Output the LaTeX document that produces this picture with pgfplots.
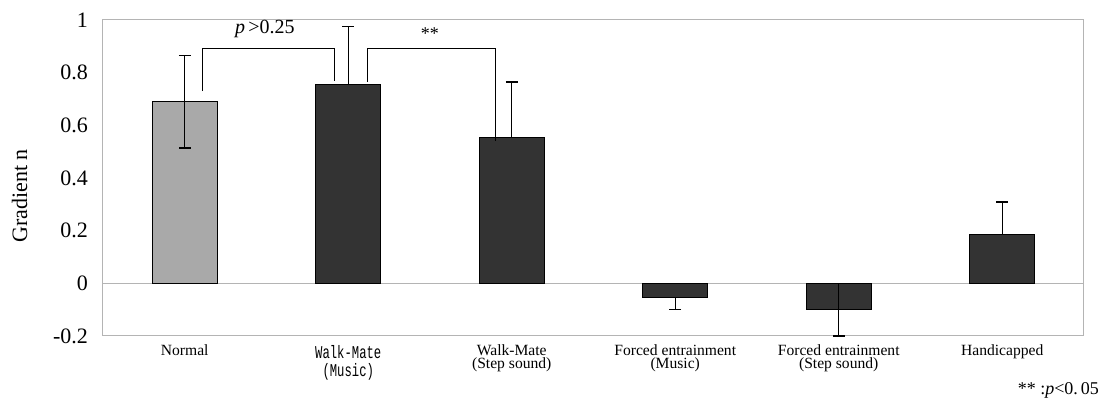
\documentclass[border=0pt]{standalone}
\usepackage{fontspec}
\setmainfont{Liberation Serif}
\setmonofont{Liberation Mono}
\usepackage{pgfplots}
\pgfplotsset{compat=1.18}
\definecolor{lightbar}{HTML}{A9A9A9}
\definecolor{darkbar}{HTML}{333333}
\definecolor{frame}{HTML}{B4B4B4}
\begin{document}
\begin{tikzpicture}
\useasboundingbox (0,0) rectangle (554pt,205.5pt);
\begin{axis}[
  at={(51.5pt,37.5pt)}, anchor=south west,
  scale only axis, width=490.5pt, height=158pt,
  xmin=-0.5, xmax=5.5, ymin=-0.2, ymax=1,
  axis line style={frame, line width=0.5pt},
  major tick length=0pt,
  xtick={0,1,2,3,4,5},
  xticklabels={Normal,
    {\scalebox{0.68}[1]{\fontsize{9}{9}\selectfont\ttfamily Walk-Mate}\\[0.5pt]\scalebox{0.68}[1]{\fontsize{9}{9}\selectfont\ttfamily (Music)}},
    {Walk-Mate\\[-2pt](Step sound)},
    {Forced entrainment\\[-2pt](Music)},
    {Forced entrainment\\[-2pt](Step sound)},
    Handicapped},
  xticklabel style={font=\fontsize{7.8}{8.5}\selectfont, align=center, anchor=north, yshift=-1pt},
  ytick={-0.2,0,0.2,0.4,0.6,0.8,1},
  yticklabels={-0.2,0,0.2,0.4,0.6,0.8,1},
  yticklabel style={font=\fontsize{11}{12}\selectfont, xshift=-4pt},
  ylabel={Gradient n},
  ylabel style={font=\fontsize{11}{12}\selectfont, at={(axis description cs:-0.085,0.443)}, anchor=center},
  ybar, bar width=0.4,
  error bars/error bar style={black, line width=0.6pt},
  error bars/error mark options={black, line width=0.8pt, mark size=3pt, rotate=90},
  clip=false,
]
\draw[frame, line width=0.6pt] (axis cs:-0.5,0) -- (axis cs:5.5,0);
\addplot[bar shift=0pt, fill=lightbar, draw=black, line width=0.5pt,
  error bars/.cd, y dir=both, y explicit]
  coordinates {(0,0.69) +- (0,0.175)};
\addplot[bar shift=0pt, fill=darkbar, draw=black, line width=0.5pt,
  error bars/.cd, y dir=plus, y explicit]
  coordinates {
    (1,0.755) +- (0,0.22)
    (2,0.555) +- (0,0.21)
    (5,0.186) +- (0,0.122)
  };
\addplot[bar shift=0pt, fill=darkbar, draw=black, line width=0.5pt,
  error bars/.cd, y dir=minus, y explicit]
  coordinates {(3,-0.053) +- (0,0.046)};
\addplot[bar shift=0pt, fill=darkbar, draw=black, line width=0.5pt,
  error bars/.cd, y dir=both, y explicit]
  coordinates {(4,-0.10) +- (0,0.10)};
\draw[black, line width=0.5pt] (axis cs:0.11,0.73) -- (axis cs:0.11,0.893) -- (axis cs:0.915,0.893) -- (axis cs:0.915,0.77);
\draw[black, line width=0.5pt] (axis cs:1.12,0.765) -- (axis cs:1.12,0.893) -- (axis cs:1.9,0.893) -- (axis cs:1.9,0.54);
\node[font=\fontsize{10}{11}\selectfont] at (axis cs:0.49,0.965) {\textit{p}\,>0.25};
\node[font=\fontsize{9}{10}\selectfont] at (axis cs:1.5,0.95) {**};
\end{axis}
\node[anchor=south east, font=\fontsize{9}{10}\selectfont] at (553pt,3pt) {** :\textit{p}<0.\,05};
\end{tikzpicture}
\end{document}
